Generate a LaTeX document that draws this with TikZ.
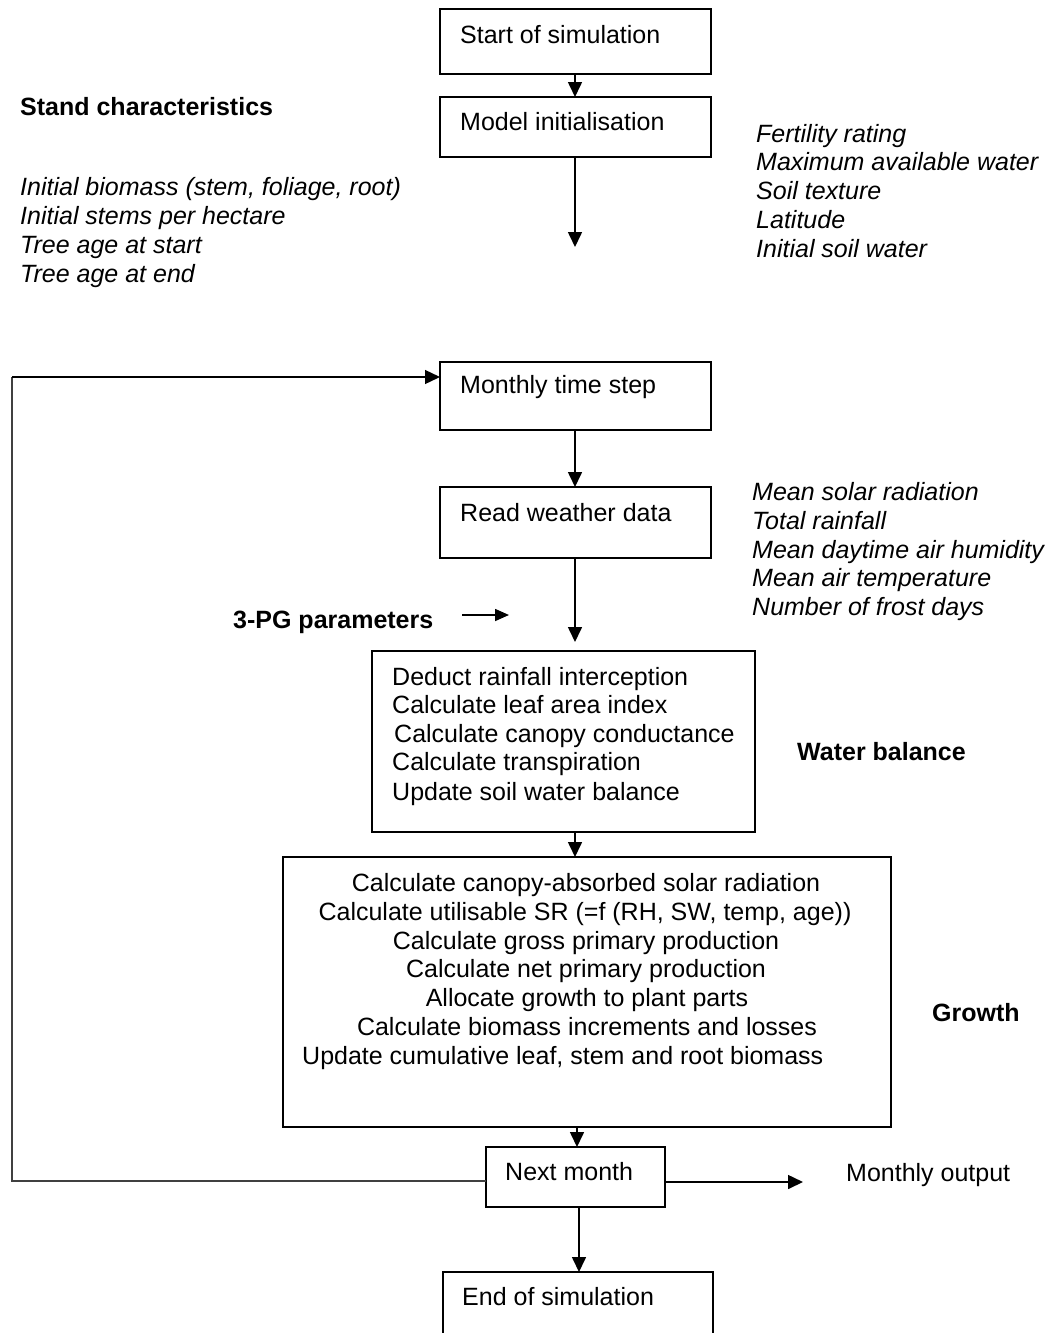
\documentclass[tikz,border=0pt]{standalone}
\usepackage{fontspec}
\setmainfont{Liberation Sans}
\usetikzlibrary{arrows.meta}
\begin{document}
\begin{tikzpicture}[x=1pt,y=-1pt,
  box/.style={draw,line width=1.6pt,anchor=north west,inner sep=0pt,outer sep=0pt},
  txt/.style={anchor=base west,inner sep=0pt,font=\fontsize{25}{30}\selectfont},
  itxt/.style={txt,font=\fontsize{25}{30}\selectfont\itshape},
  btxt/.style={txt,font=\fontsize{25}{30}\selectfont\bfseries},
  ctxt/.style={anchor=base,inner sep=0pt,font=\fontsize{25}{30}\selectfont},
  arr/.style={line width=1.6pt,-{Triangle[length=15pt,width=14pt]}},
  loopline/.style={line width=1.3pt,draw=black!75}]
\useasboundingbox (0,0) rectangle (1052,1333);
\begin{scope}
\clip (0,0) rectangle (1052,1333);
% boxes
\node[box,minimum width=271pt,minimum height=65pt] (start) at (440,9) {};
\node[box,minimum width=271pt,minimum height=60pt] (init) at (440,97) {};
\node[box,minimum width=271pt,minimum height=68pt] (month) at (440,362) {};
\node[box,minimum width=271pt,minimum height=71pt] (read) at (440,487) {};
\node[box,minimum width=383pt,minimum height=181pt] (water) at (372,651) {};
\node[box,minimum width=608pt,minimum height=270pt] (grow) at (283,857) {};
\node[box,minimum width=179pt,minimum height=60pt] (next) at (486,1147) {};
\node[box,minimum width=270pt,minimum height=100pt] (end) at (443,1272) {};
\end{scope}
% box texts
\node[txt] (tstart) at (460,43) {Start of simulation};
\node[txt] (tinit) at (460,130) {Model initialisation};
\node[txt] (tmonth) at (460,393) {Monthly time step};
\node[txt] (tread) at (460,521) {Read weather data};
\node[txt] (w1) at (392,685) {Deduct rainfall interception};
\node[txt] (w2) at (392,713) {Calculate leaf area index};
\node[txt] (w3) at (394,742) {Calculate canopy conductance};
\node[txt] (w4) at (392,770) {Calculate transpiration};
\node[txt] (w5) at (392,800) {Update soil water balance};
\node[ctxt] (g1) at (586,891) {Calculate canopy-absorbed solar radiation};
\node[ctxt] (g2) at (585,920) {Calculate utilisable SR (=f (RH, SW, temp, age))};
\node[ctxt] (g3) at (586,949) {Calculate gross primary production};
\node[ctxt] (g4) at (586,977) {Calculate net primary production};
\node[ctxt] (g5) at (587,1006) {Allocate growth to plant parts};
\node[ctxt] (g6) at (587,1035) {Calculate biomass increments and losses};
\node[txt] (g7) at (302,1064) {Update cumulative leaf, stem and root biomass};
\node[txt] (tnext) at (505,1180) {Next month};
\node[txt] (tend) at (462,1305) {End of simulation};
% side texts
\node[btxt] (stand) at (20,115) {Stand characteristics};
\node[itxt] (s1) at (20,195) {Initial biomass (stem, foliage, root)};
\node[itxt] (s2) at (20,224) {Initial stems per hectare};
\node[itxt] (s3) at (20,253) {Tree age at start};
\node[itxt] (s4) at (20,282) {Tree age at end};
\node[itxt] (r1) at (756,142) {Fertility rating};
\node[itxt] (r2) at (756,170) {Maximum available water};
\node[itxt] (r3) at (756,199) {Soil texture};
\node[itxt] (r4) at (756,228) {Latitude};
\node[itxt] (r5) at (756,257) {Initial soil water};
\node[itxt] (m1) at (752,500) {Mean solar radiation};
\node[itxt] (m2) at (752,529) {Total rainfall};
\node[itxt] (m3) at (752,558) {Mean daytime air humidity};
\node[itxt] (m4) at (752,586) {Mean air temperature};
\node[itxt] (m5) at (752,615) {Number of frost days};
\node[btxt] (pg) at (233,628) {3-PG parameters};
\node[btxt] (wb) at (797,760) {Water balance};
\node[btxt] (gr) at (932,1021) {Growth};
\node[txt] (out) at (846,1181) {Monthly output};
% coordinates
\coordinate (initend) at (575,247);
\coordinate (pgA) at (462,615);
\coordinate (pgB) at (509,615);
\coordinate (readend) at (575,642);
\coordinate (outend) at (803,1182);
\coordinate (lx1) at (12,1181);
\coordinate (lx2) at (12,377);
% connectors
\draw[arr] (575,74) -- (575,97);
\draw[arr] (init.south -| initend) -- (initend);
\draw[arr] (month.south -| 575,0) -- (read.north -| 575,0);
\draw[arr] (read.south -| readend) -- (readend);
\draw[line width=1.6pt,-{Triangle[length=14pt,width=12pt]}] (pgA) -- (pgB);
\draw[arr] (water.south -| 575,0) -- (grow.north -| 575,0);
\draw[arr] (grow.south -| 577,0) -- (next.north -| 577,0);
\draw[arr] (next.south -| 579,0) -- (end.north -| 579,0);
\draw[arr] (next.east |- outend) -- (outend);
\draw[loopline] (next.west |- lx1) -- (lx1) -- (lx2);
\draw[loopline,-{Triangle[length=15pt,width=14pt]},draw=black] (lx2) -- (month.west |- lx2);
\end{tikzpicture}
\end{document}
